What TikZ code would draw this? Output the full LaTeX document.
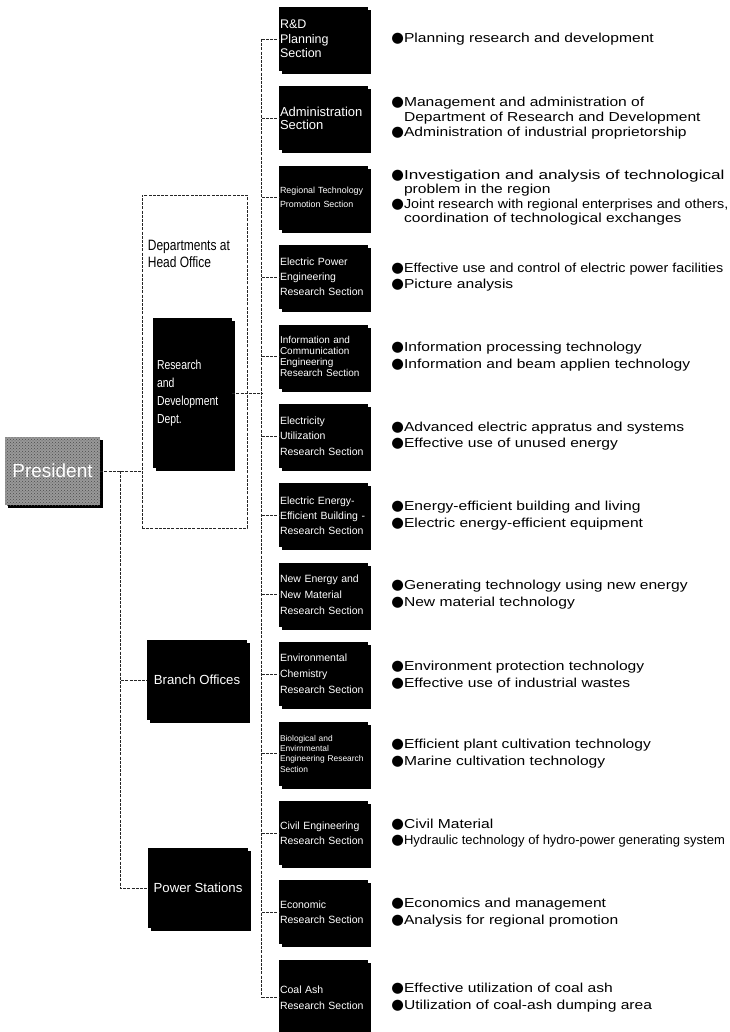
\documentclass[tikz,border=0pt]{standalone}
\usepackage{fontspec}
\setmainfont{Liberation Sans}
\newfontfamily\narrowfont[FakeStretch=0.8]{Liberation Sans}
\newfontfamily\descfont[FakeStretch=1.2]{Liberation Sans}
\newfontfamily\widefont[FakeStretch=1.32]{Liberation Sans}
\newfontfamily\longfont[FakeStretch=1.1]{Liberation Sans}
\newfontfamily\condfont[FakeStretch=1.0]{Liberation Sans}
\newfontfamily\symfont{DejaVu Sans}
\usetikzlibrary{positioning, shadows, patterns}
\newcommand{\fs}[2]{\fontsize{#1pt}{#2pt}\selectfont}
\newcommand{\bul}{\smash{\symfont\fs{14.5}{14.5}●}}
\newcommand{\ind}{\hphantom{\bul}}

\begin{document}
\begin{tikzpicture}[
    x=1pt, y=-1pt,
    every node/.style={inner sep=0pt},
    secbox/.style ={fill=black, text=white, align=left, minimum width=89pt,
                    minimum height=64pt, text width=87pt, inner xsep=1pt,
                    font={\fs{10.5}{15.5}},
                    drop shadow={shadow xshift=3pt, shadow yshift=-3pt, fill=black, opacity=1}},
    unitbox/.style={fill=black, text=white, align=center, font={\fs{13.2}{15}},
                    drop shadow={shadow xshift=3pt, shadow yshift=-3pt, fill=black, opacity=1}},
    desc/.style   ={align=left, font={\descfont\fs{13}{16.5}}},
    link/.style   ={draw=black!85, line width=0.7pt, dash pattern=on 3pt off 1.2pt},
]
\useasboundingbox (0,0) rectangle (729,1032);

% --- left: president, head office and the two field units ---
\node[unitbox, fill=black!40, postaction={pattern=crosshatch dots, pattern color=black!70},
      minimum width=95pt, minimum height=68pt, font={\fs{19}{19}}] (pres) at (52.5,471) {President};
\node[link, minimum width=105pt, minimum height=333pt] (hobox) at (194.5,361.5) {};
\node[align=left, font={\narrowfont\fs{15}{17}},
      below right=45pt and 6pt of hobox.north west] (holabel) {Departments at\\Head Office};
\node[unitbox, minimum width=79pt, minimum height=150pt, text width=71pt,
      inner xsep=4pt, align=left, font={\narrowfont\fs{13}{18}}] (rdd) at (192.5,393)
     {Research\\and\\Development\\Dept.};
\node[unitbox, minimum width=100pt, minimum height=80pt] (branch) at (197,680) {Branch Offices};
\node[unitbox, minimum width=100pt, minimum height=80pt] (power)  at (198,888) {Power Stations};

% --- middle: the sections of the R&D department ---
\node[secbox, font={\fs{12.5}{14.5}}] (s1) at (323.5,39) {R\&D\\Planning\\Section};
\node[secbox, below=15pt of s1, font={\fs{13}{13}}] (s2) {Administration\\Section};
\node[secbox, below=15pt of s2, font={\fs{8.9}{14}}] (s3) {Regional Technology\\Promotion Section};
\node[secbox, below=15pt of s3, font={\fs{10.5}{15}}] (s4) {Electric Power\\Engineering\\Research Section};
\node[secbox, below=15pt of s4, font={\fs{10}{11}}] (s5)
     {Information and\\Communication\\Engineering\\Research Section};
\node[secbox, below=15pt of s5] (s6) {Electricity\\Utilization\\Research Section};
\node[secbox, below=15pt of s6, font={\fs{10.5}{15}}] (s7)
     {Electric Energy-\\Efficient Building -\\Research Section};
\node[secbox, below=15pt of s7, font={\fs{10.5}{16}}] (s8) {New Energy and\\New Material\\Research Section};
\node[secbox, below=15pt of s8, font={\fs{10.5}{16}}] (s9) {Environmental\\Chemistry\\Research Section};
\node[secbox, below=15pt of s9, font={\fs{8.4}{10.3}}] (s10)
     {Biological and\\Envirnmental\\Engineering Research\\Section};
\node[secbox, below=15pt of s10] (s11) {Civil Engineering\\Research Section};
\node[secbox, below=15pt of s11] (s12) {Economic\\Research Section};
\node[secbox, below=15pt of s12, minimum height=76pt] (s13) {Coal Ash\\Research Section};

% --- right: what each section does ---
\node[desc, right=23pt of s1] (d1) {\bul Planning research and development};
\node[desc, right=23pt of s2, font={\descfont\fs{13}{15}}] (d2)
     {\bul Management and administration of\\\ind Department of Research and Development\\
      \bul Administration of industrial proprietorship};
\node[desc, right=23pt of s3, font={\descfont\fs{13}{14.5}}] (d3)
     {\bul{\widefont Investigation and analysis of technological}\\\ind problem in the region\\
      \bul{\longfont Joint research with regional enterprises and others,}\\
      \ind coordination of technological exchanges};
\node[desc, right=23pt of s4] (d4)
     {\bul{\longfont Effective use and control of electric power facilities}\\\bul Picture analysis};
\node[desc, right=23pt of s5] (d5)
     {\bul Information processing technology\\\bul Information and beam applien technology};
\node[desc, right=23pt of s6] (d6)
     {\bul Advanced electric appratus and systems\\\bul Effective use of unused energy};
\node[desc, right=23pt of s7] (d7)
     {\bul Energy-efficient building and living\\\bul Electric energy-efficient equipment};
\node[desc, right=23pt of s8] (d8)
     {\bul Generating technology using new energy\\\bul New material technology};
\node[desc, right=23pt of s9] (d9)
     {\bul Environment protection technology\\\bul Effective use of industrial wastes};
\node[desc, right=23pt of s10] (d10)
     {\bul Efficient plant cultivation technology\\\bul Marine cultivation technology};
\node[desc, right=23pt of s11] (d11)
     {\bul Civil Material\\\bul{\condfont Hydraulic technology of hydro-power generating system}};
\node[desc, right=23pt of s12] (d12)
     {\bul Economics and management\\\bul Analysis for regional promotion};
\node[desc, right=23pt of s13] (d13)
     {\bul Effective utilization of coal ash\\\bul Utilization of coal-ash dumping area};

% --- dashed links ---
\coordinate (jt)  at ([xshift=20pt]pres.east);
\coordinate (spT) at ([xshift=-17pt]s1.west);
\coordinate (spB) at ([xshift=-17pt]s13.west);
\draw[link] (pres.east) -- (hobox.west |- pres.east);
\draw[link] (jt) |- (branch.west);
\draw[link] (jt) |- (power.west);
\draw[link] (rdd.east) -- (rdd.east -| spT);
\draw[link] (spT) -- (spB);
\foreach \i in {1,...,13}
  \draw[link] (s\i.west -| spT) -- (s\i.west);
\end{tikzpicture}
\end{document}
